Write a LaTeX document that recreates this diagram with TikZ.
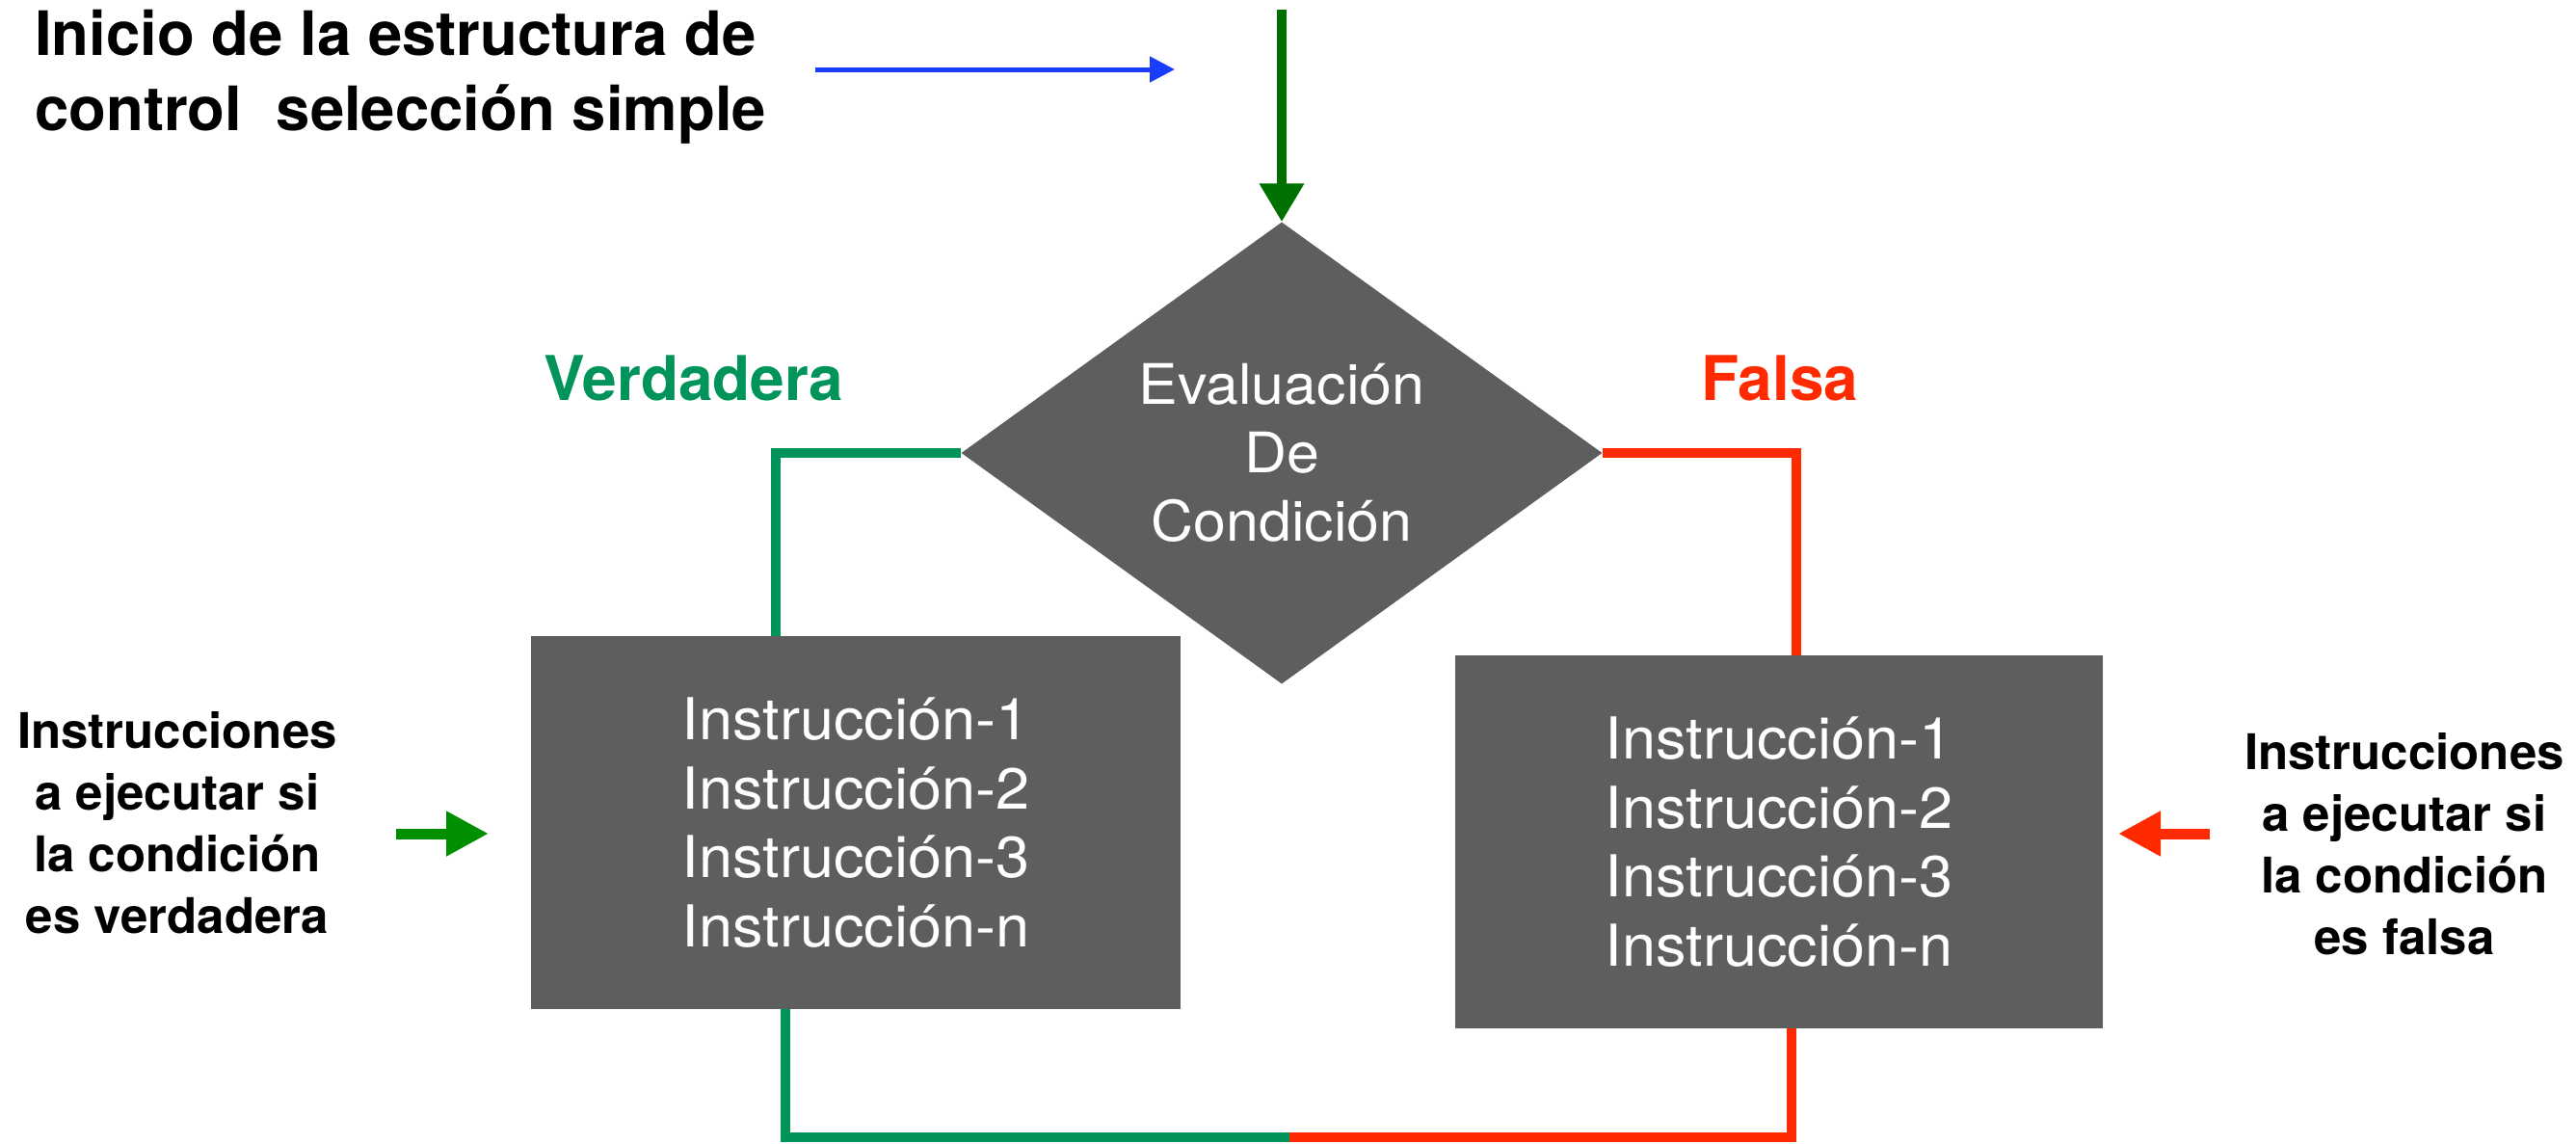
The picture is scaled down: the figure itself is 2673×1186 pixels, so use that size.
\documentclass[tikz,border=0pt]{standalone}
\usepackage{fontspec}
\setmainfont{TeX Gyre Heros}
\newfontfamily\widefont[FakeStretch=1.05]{TeX Gyre Heros}
\usetikzlibrary{shapes.geometric,arrows.meta}
\definecolor{boxgray}{HTML}{5E5E5E}
\definecolor{truegreen}{HTML}{00935A}
\definecolor{falsered}{HTML}{FF2A00}
\definecolor{startblue}{HTML}{1A3CFF}
\definecolor{entrygreen}{HTML}{007000}
\definecolor{hintgreen}{HTML}{008F00}
\tikzset{
  flowbox/.style={rectangle, fill=boxgray, draw=none, minimum height=387pt, inner sep=0pt,
    text=white, align=center, font=\widefont\fontsize{60}{71.5}\selectfont},
  decision/.style={diamond, fill=boxgray, draw=none, aspect=1.388, minimum width=665pt,
    minimum height=479pt, inner sep=0pt, text=white, align=center, font=\widefont\fontsize{58}{71}\selectfont},
  sidelabel/.style={align=center, inner sep=0pt, font=\bfseries\fontsize{51}{64}\selectfont},
  branchlabel/.style={inner sep=0pt, font=\bfseries\fontsize{64}{70}\selectfont},
  titlelabel/.style={align=left, inner sep=0pt, font=\bfseries\fontsize{63.5}{78}\selectfont},
  truepath/.style={draw=truegreen, line width=10pt},
  falsepath/.style={draw=falsered, line width=10pt},
  bigarrow/.style={line width=10pt, -{Triangle[length=40pt,width=44pt]}},
  hintarrow/.style={line width=11pt, -{Triangle[length=44pt,width=44pt]}},
}
\begin{document}
\begin{tikzpicture}[x=1pt,y=-1pt]
\useasboundingbox (0,0) rectangle (2673,1186);

% title and start arrow
\node[titlelabel, anchor=base west] (title) at (36,135) {Inicio de la estructura de\\control\ \ selección simple};
\coordinate (bs) at (846,72);
\coordinate (be) at (1219,72);
\draw[startblue, line width=5pt, -{Triangle[length=26pt,width=26pt]}] (bs) -- (be);

% main shapes
\node[decision] (dia) at (1330,470) {Evaluación\\De\\Condición};
\node[flowbox, minimum width=674pt] (lbox) at (888,853.5) {Instrucción-1\\Instrucción-2\\Instrucción-3\\Instrucción-n};
\node[flowbox, minimum width=672pt] (rbox) at (1846,873.5) {Instrucción-1\\Instrucción-2\\Instrucción-3\\Instrucción-n};

% entry arrow
\coordinate (entry) at (1330,10);
\draw[entrygreen, bigarrow] (entry) -- (dia.north);

% branch labels
\node[branchlabel, text=truegreen, anchor=base] (vlab) at (720,415) {Verdadera};
\node[branchlabel, text=falsered, anchor=base] (flab) at (1847,415) {Falsa};

% branch connectors
\coordinate (gtop) at (805,0);
\coordinate (rtop) at (1864,0);
\coordinate (gbot) at (815,0);
\coordinate (rbot) at (1859,0);
\coordinate (join) at (1338,1180);
\draw[truepath] (dia.west) -| (gtop |- lbox.north);
\draw[falsepath] (dia.east) -| (rtop |- rbox.north);
\draw[truepath] (gbot |- lbox.south) |- (join);
\draw[falsepath] (join) -| (rbot |- rbox.south);

% side labels and hint arrows
\node[sidelabel, anchor=base] (ltext) at (184,968) {Instrucciones\\a ejecutar si\\la condición\\es verdadera};
\node[sidelabel, anchor=base] (rtext) at (2495,990) {Instrucciones\\a ejecutar si\\la condición\\es falsa};
\coordinate (lh1) at (411,865);
\coordinate (lh2) at (507,865);
\coordinate (rh1) at (2293,865);
\coordinate (rh2) at (2198,865);
\draw[hintgreen, hintarrow] (lh1) -- (lh2);
\draw[falsered, hintarrow] (rh1) -- (rh2);
\end{tikzpicture}
\end{document}
